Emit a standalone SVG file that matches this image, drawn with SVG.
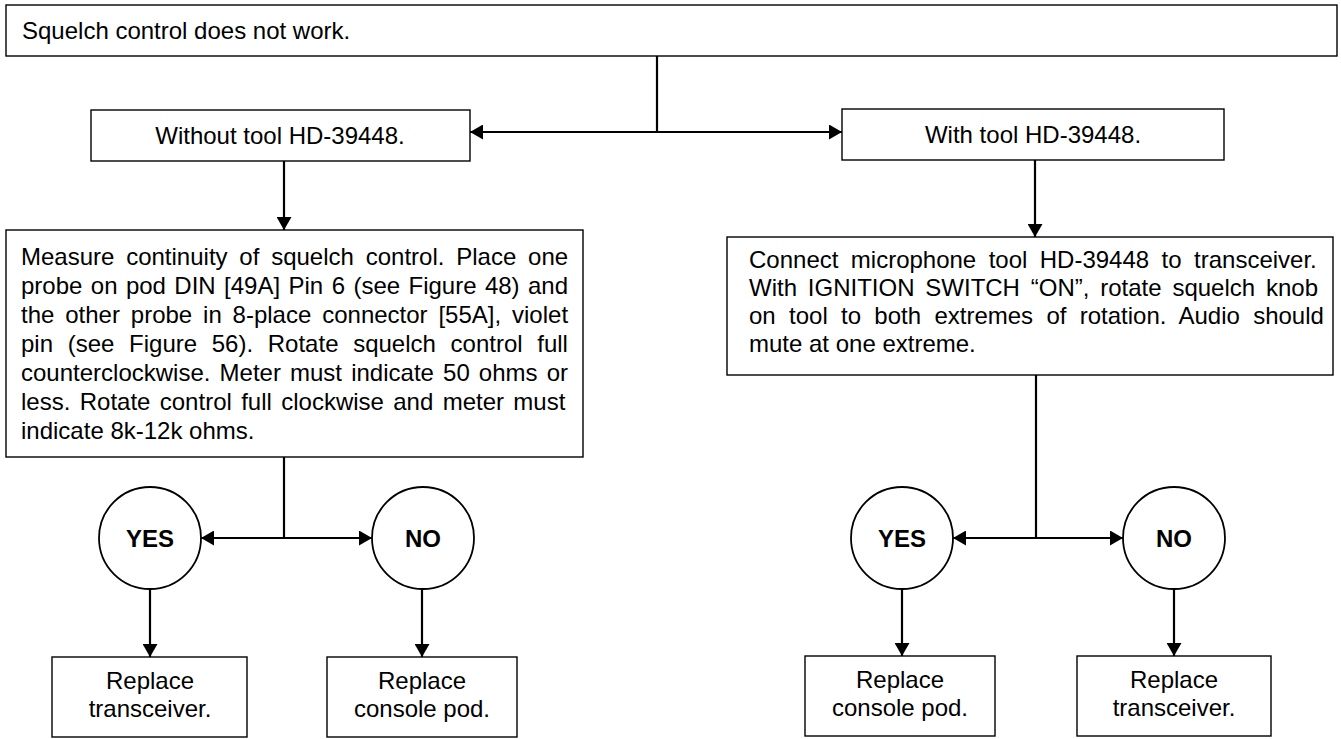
<svg xmlns="http://www.w3.org/2000/svg" width="1341" height="739" viewBox="0 0 1341 739">
  <style>
    .box { fill: #ffffff; stroke: #000000; stroke-width: 1.4; }
    .circ { fill: #ffffff; stroke: #000000; stroke-width: 1.8; }
    .t { font-family: "Liberation Sans", Arial, Helvetica, sans-serif; font-size: 24px; fill: #000000; }
    .c { text-anchor: middle; }
    .b { font-weight: bold; }
    .wire { fill: none; stroke: #000000; stroke-width: 2.2; }
  </style>
  <defs>
    <marker id="head" markerUnits="userSpaceOnUse" markerWidth="14" markerHeight="15" refX="13" refY="7.5" orient="auto-start-reverse" viewBox="0 0 14 15">
      <path d="M0,0 L13,7.5 L0,15 Z" fill="#000000"/>
    </marker>
  </defs>
  <rect width="1341" height="739" fill="#ffffff"/>

  <!-- connectors -->
  <g id="connectors">
    <path class="wire" d="M657,56 V132"/>
    <path class="wire" d="M470,132 H842" marker-start="url(#head)" marker-end="url(#head)"/>
    <path class="wire" d="M284,161 V230" marker-end="url(#head)"/>
    <path class="wire" d="M1035,160 V237" marker-end="url(#head)"/>
    <path class="wire" d="M284,457 V538"/>
    <path class="wire" d="M201,538 H372" marker-start="url(#head)" marker-end="url(#head)"/>
    <path class="wire" d="M1036,375 V538"/>
    <path class="wire" d="M953,538 H1123" marker-start="url(#head)" marker-end="url(#head)"/>
    <path class="wire" d="M150,589 V657" marker-end="url(#head)"/>
    <path class="wire" d="M422,589 V657" marker-end="url(#head)"/>
    <path class="wire" d="M902,589 V656" marker-end="url(#head)"/>
    <path class="wire" d="M1174,589 V656" marker-end="url(#head)"/>
  </g>

  <!-- problem statement -->
  <g id="start">
    <rect class="box" x="6" y="5" width="1331" height="51"/>
    <text class="t" x="22" y="39">Squelch control does not work.</text>
  </g>

  <g id="without-tool">
    <rect class="box" x="91" y="110" width="379" height="51"/>
    <text class="t c" x="280" y="144">Without tool HD-39448.</text>
  </g>

  <g id="with-tool">
    <rect class="box" x="842" y="109" width="382" height="51"/>
    <text class="t c" x="1033" y="143">With tool HD-39448.</text>
  </g>

  <!-- continuity test (justified paragraph) -->
  <g id="measure-continuity">
    <rect class="box" x="6" y="230" width="577" height="227"/>
    <text class="t" x="21" y="265" word-spacing="5.13">Measure continuity of squelch control. Place one</text>
    <text class="t" x="21" y="294" word-spacing="1.74">probe on pod DIN [49A] Pin 6 (see Figure 48) and</text>
    <text class="t" x="21" y="323" word-spacing="4.2">the other probe in 8-place connector [55A], violet</text>
    <text class="t" x="21" y="352" word-spacing="8.0">pin (see Figure 56). Rotate squelch control full</text>
    <text class="t" x="21" y="381" word-spacing="2.47">counterclockwise. Meter must indicate 50 ohms or</text>
    <text class="t" x="21" y="410" word-spacing="2.69">less. Rotate control full clockwise and meter must</text>
    <text class="t" x="21" y="439">indicate 8k-12k ohms.</text>
  </g>

  <!-- microphone tool test (justified paragraph) -->
  <g id="connect-microphone">
    <rect class="box" x="727" y="237" width="606" height="138"/>
    <text class="t" x="749" y="268" word-spacing="5.76">Connect microphone tool HD-39448 to transceiver.</text>
    <text class="t" x="749" y="296" word-spacing="4.15">With IGNITION SWITCH “ON”, rotate squelch knob</text>
    <text class="t" x="749" y="324" word-spacing="6.65">on tool to both extremes of rotation. Audio should</text>
    <text class="t" x="749" y="352">mute at one extreme.</text>
  </g>

  <g id="yes-left">
    <circle class="circ" cx="150" cy="538" r="51"/>
    <text class="t c b" x="150" y="547">YES</text>
  </g>
  <g id="no-left">
    <circle class="circ" cx="423" cy="538" r="51"/>
    <text class="t c b" x="423" y="547">NO</text>
  </g>
  <g id="yes-right">
    <circle class="circ" cx="902" cy="538" r="51"/>
    <text class="t c b" x="902" y="547">YES</text>
  </g>
  <g id="no-right">
    <circle class="circ" cx="1174" cy="538" r="51"/>
    <text class="t c b" x="1174" y="547">NO</text>
  </g>

  <g id="replace-transceiver-left">
    <rect class="box" x="52" y="657" width="195" height="80"/>
    <text class="t c" x="150" y="689">Replace</text>
    <text class="t c" x="150" y="717">transceiver.</text>
  </g>
  <g id="replace-pod-left">
    <rect class="box" x="327" y="657" width="190" height="80"/>
    <text class="t c" x="422" y="689">Replace</text>
    <text class="t c" x="422" y="717">console pod.</text>
  </g>
  <g id="replace-pod-right">
    <rect class="box" x="805" y="656" width="190" height="80"/>
    <text class="t c" x="900" y="688">Replace</text>
    <text class="t c" x="900" y="716">console pod.</text>
  </g>
  <g id="replace-transceiver-right">
    <rect class="box" x="1077" y="656" width="194" height="80"/>
    <text class="t c" x="1174" y="688">Replace</text>
    <text class="t c" x="1174" y="716">transceiver.</text>
  </g>
</svg>
